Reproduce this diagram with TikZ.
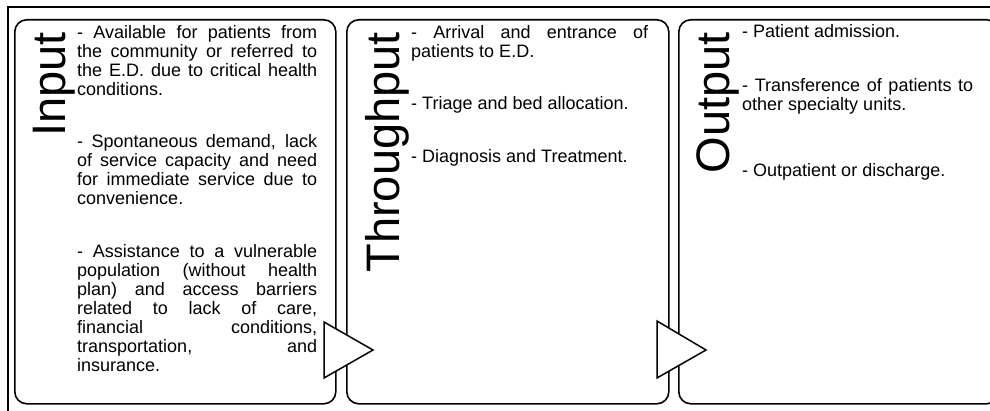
\documentclass[tikz,border=0pt]{standalone}
\usepackage{fontspec}
\setmainfont{Liberation Sans}
\usetikzlibrary{positioning}
\tikzstyle{frame} = [draw, line width=2pt]
\tikzstyle{panel} = [draw, line width=1.6pt, rounded corners=12pt, anchor=north west, inner sep=0pt]
\tikzstyle{stage} = [rotate=90, anchor=base east, inner sep=0pt, font=\fontsize{47}{50}\selectfont]
\tikzstyle{item} = [anchor=base west, inner sep=0pt, align=justify, font=\fontsize{18}{19}\selectfont]
\tikzstyle{flow} = [draw, fill=white, line width=1.5pt, line join=miter]
\hbadness=10000

\begin{document}
\begin{tikzpicture}[x=1pt, y=-1pt]
		\useasboundingbox (0,0) rectangle (990,411);
		\clip (0,0) rectangle (990,411);
		\draw[frame] (8,430) -- (8,7) -- (1010,7);
		\node[panel, minimum width=321pt, minimum height=384pt] (inbox) at (14,19) {};
		\node[panel, minimum width=322pt, minimum height=384pt] (thbox) at (346,19) {};
		\node[panel, minimum width=320pt, minimum height=384pt] (outbox) at (678,19) {};
		\node[stage] (intitle) at (65,32) {Input};
		\node[stage] (thtitle) at (399,32) {Throughput};
		\node[stage] (outtitle) at (729,32) {Output};
		\node[item, text width=240pt] (in1) at (77,39) {- Available for patients from\linebreak the community or referred to\linebreak the E.D. due to critical health\linebreak conditions.};
		\node[item, text width=240pt] (in2) at (77,148) {- Spontaneous demand, lack\linebreak of service capacity and need\linebreak for immediate service due to\linebreak convenience.};
		\node[item, text width=240pt] (in3) at (77,258) {- Assistance to a vulnerable\linebreak population (without health\linebreak plan) and access barriers\linebreak related to lack of care,\linebreak financial conditions,\linebreak transportation, and\linebreak insurance.};
		\node[item, text width=237pt] (th1) at (411,39) {- Arrival and entrance of\linebreak patients to E.D.};
		\node[item, text width=237pt] (th2) at (411,110) {- Triage and bed allocation.};
		\node[item, text width=237pt] (th3) at (411,163) {- Diagnosis and Treatment.};
		\node[item, text width=231pt] (out1) at (742,38) {- Patient admission.};
		\node[item, text width=231pt] (out2) at (742,92) {- Transference of patients to\linebreak other specialty units.};
		\node[item, text width=231pt] (out3) at (742,177) {- Outpatient or discharge.};
		\draw[flow] (324,322) -- (324,378) -- (373,350) -- cycle;
		\draw[flow] (657,321) -- (657,378) -- (706,350) -- cycle;
	\end{tikzpicture}
\end{document}
